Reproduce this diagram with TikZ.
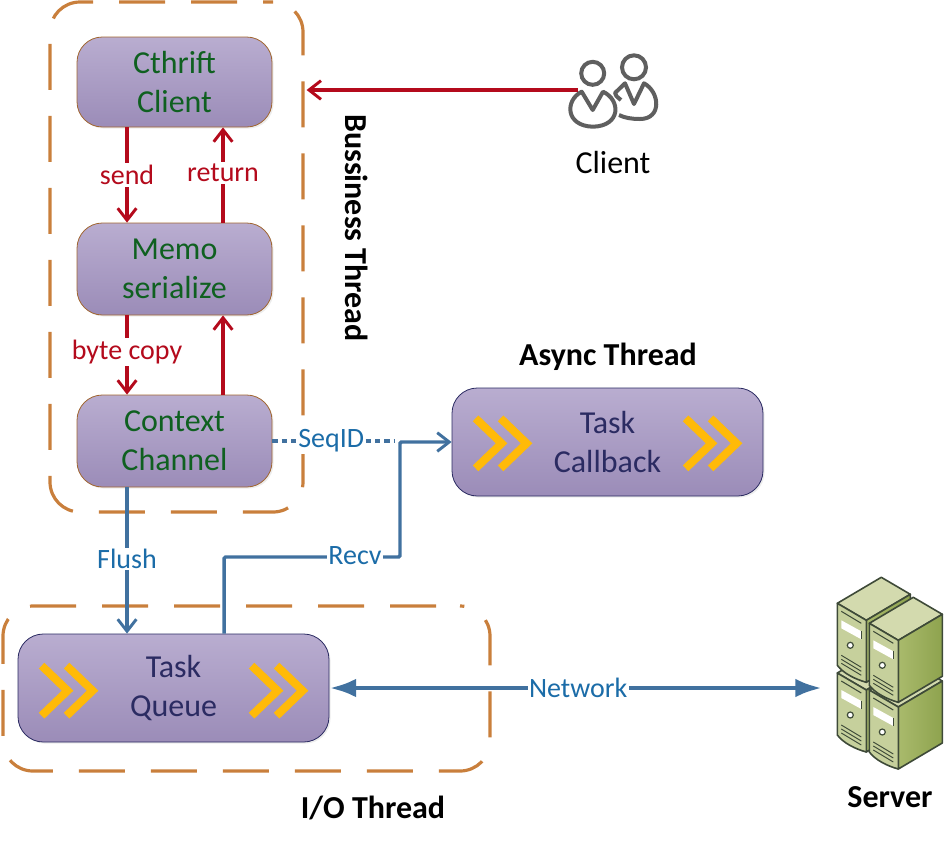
\documentclass[tikz,border=0pt]{standalone}
\usepackage{fontspec}
\setmainfont{Carlito}
\usetikzlibrary{arrows.meta}
\usetikzlibrary{shadows}
\definecolor{groupline}{HTML}{C97F3C}
\definecolor{redline}{HTML}{B40A1C}
\definecolor{blueline}{HTML}{41719F}
\definecolor{bluetext}{HTML}{1B6CA8}
\definecolor{greentext}{HTML}{0F6020}
\definecolor{navytext}{HTML}{2B2B62}
\definecolor{boxtop}{HTML}{B9ADD0}
\definecolor{boxbottom}{HTML}{9B8CB8}
\definecolor{chevron}{HTML}{FFBA08}
\definecolor{personline}{HTML}{5F5F5F}
\definecolor{towerdark}{HTML}{3E4A38}
\definecolor{TowerTop}{HTML}{D3DAAE}
\definecolor{TowerLeft}{HTML}{C6D09C}
\definecolor{TowerRightA}{HTML}{A9BA6C}
\definecolor{TowerRightB}{HTML}{8EA34E}
\tikzset{
  groupbox/.style={draw=groupline,line width=2.4pt,rounded corners=22.5pt,dash pattern=on 34.5pt off 19.5pt,inner sep=0pt},
  taskbox/.style={rounded corners=19pt,top color=boxtop,bottom color=boxbottom,inner sep=0pt,align=center,
    font=\fontsize{24}{29.25}\selectfont,drop shadow={shadow xshift=1.2pt,shadow yshift=-1.2pt,opacity=.15}},
  greenbox/.style={taskbox,draw=groupline!80!black,text=greentext,line width=.6pt},
  purplebox/.style={taskbox,draw=navytext,text=navytext,line width=.6pt},
  redarrow/.style={draw=redline,line width=2.6pt,-{Straight Barb[length=9pt,width=14pt,line width=2.2pt]}},
  bluearrow/.style={draw=blueline,line width=2.6pt,-{Straight Barb[length=9pt,width=14pt,line width=2.2pt]}},
  netarrow/.style={draw=blueline,line width=3.6pt,{Latex[length=20pt,width=14pt]}-{Latex[length=20pt,width=14pt]}},
  seqline/.style={draw=blueline,line width=2.4pt,dash pattern=on 4pt off 3pt},
  redlabel/.style={fill=white,text=redline,inner sep=1.5pt,font=\fontsize{21}{21}\selectfont},
  bluelabel/.style={fill=white,text=bluetext,inner sep=1pt,font=\fontsize{21}{21}\selectfont},
  headlabel/.style={inner sep=0pt,font=\fontsize{24}{24}\selectfont\bfseries},
  doublechevron/.pic={
    \draw[chevron,line width=6pt,miter limit=4] (0,-25) -- (26,0) -- (0,25);
    \draw[chevron,line width=6pt,miter limit=4] (25,-25) -- (51,0) -- (25,25);
  },
  servertower/.pic={
    \draw[towerdark,line width=1.2pt,line join=round,fill=TowerTop] (0,0) -- (44,-26) -- (73,-9) -- (29,17) -- cycle;
    \draw[towerdark,line width=1.2pt,line join=round,left color=TowerRightA,right color=TowerRightB] (29,17) -- (73,-9) -- (73,53) -- (29,79) -- cycle;
    \draw[towerdark,line width=1.2pt,line join=round,fill=TowerLeft] (0,0) -- (29,17) -- (29,79) .. controls (18,76) and (6,70) .. (0,62) -- cycle;
    \draw[towerdark,line width=.8pt] (4,8) -- (24,20);
    \fill[white] (4,17) -- (24,28) -- (24,36) -- (4,25) -- cycle;
    \draw[towerdark,line width=.8pt] (24,28) -- (24,36);
    \draw[towerdark,line width=.9pt,fill=white] (13,42) circle (3);
    \draw[towerdark,line width=.7pt] (4,52) -- (24,64) (4,56) -- (24,68) (4,60) -- (24,72);
  },
}
\begin{document}
\begin{tikzpicture}[x=0.75pt,y=0.75pt,yscale=-1,xscale=1]
\useasboundingbox (0,0) rectangle (950,844);

%Shape: thread groups
\node[groupbox,dash phase=27pt,minimum width=189.75pt,minimum height=382.5pt] (business) at (176.5,257) {};
\node[groupbox,dash phase=36pt,minimum width=365.25pt,minimum height=123.75pt] (iothread) at (246.5,688.5) {};

%Shape: boxes
\node[greenbox,minimum width=146.25pt,minimum height=67.5pt] (cthrift) at (174.5,82) {Cthrift\\Client};
\node[greenbox,minimum width=146.25pt,minimum height=69pt] (memo) at (174.5,269) {Memo\\serialize};
\node[greenbox,minimum width=146.25pt,minimum height=69pt] (context) at (174.5,441) {Context\\Channel};
\node[purplebox,minimum width=233.25pt,minimum height=81pt] (queue) at (173.5,688) {Task\\Queue};
\node[purplebox,minimum width=233.25pt,minimum height=81pt] (callback) at (607.5,442) {Task\\Callback};

%Shape: chevrons
\pic[transform shape] (queuein) at ([xshift=18pt,yshift=2pt]queue.west) {doublechevron};
\pic[transform shape] (queueout) at ([xshift=175.5pt,yshift=2pt]queue.west) {doublechevron};
\pic[transform shape] (callbackin) at ([xshift=18pt,yshift=1pt]callback.west) {doublechevron};
\pic[transform shape] (callbackout) at ([xshift=175.5pt,yshift=1pt]callback.west) {doublechevron};

%Shape: client icon
\draw[personline,line width=3pt] (592.7,73.3) circle (11.5);
\draw[personline,line width=3pt] (634,67.3) circle (12);
\draw[personline,line width=3pt,line join=round] (581.7,91.7) .. controls (565,100) and (565,126) .. (593,126.7) .. controls (621,126) and (621,100) .. (603,91.7) -- (592.7,110) -- cycle;
\draw[personline,line width=3pt,line join=round] (621,100) .. controls (616,96) .. (615,93) -- (625,83.3) -- (634,104) -- (644,83.3) .. controls (660,92) and (662,119) .. (640,119) .. controls (632,119) and (625,118) .. (619,115);
\coordinate (clientpt) at (578,90);
\node[inner sep=0pt,font=\fontsize{24}{24}\selectfont] (clientlabel) at (613,162) {Client};

%Shape: server icon
\pic[transform shape] (towerbl) at (837.3,673) {servertower};
\pic[transform shape] (towertl) at (837.3,603.3) {servertower};
\pic[transform shape] (towerbr) at (869.3,690) {servertower};
\pic[transform shape] (towertr) at (869.3,623.3) {servertower};
\coordinate (serverpt) at (822,687);

%Straight Lines: red
\draw[redarrow] (clientpt) -- ([xshift=1.5pt]clientpt -| business.east) ;
\draw[redarrow] ([xshift=-35.6pt]cthrift.south) -- node[redlabel,pos=0.5] (sendlabel) {send} ([xshift=-35.6pt]memo.north) ;
\draw[redarrow] ([xshift=36.4pt]memo.north) -- node[redlabel,pos=0.52] (returnlabel) {return} ([xshift=36.4pt]cthrift.south) ;
\draw[redarrow] ([xshift=-35.6pt]memo.south) -- node[redlabel,pos=0.46] (bytelabel) {byte copy} ([xshift=-35.6pt]context.north) ;
\draw[redarrow] ([xshift=36.4pt]context.north) -- ([xshift=36.4pt]memo.south) ;

%Straight Lines: blue
\draw[bluearrow] ([xshift=-35.6pt]context.south) -- node[bluelabel,pos=0.49] (flushlabel) {Flush} ([xshift=-35.6pt]queue.north -| context.south) ;
\coordinate (recvcorner) at (400,557);
\coordinate (seqend) at (395,441);
\draw[seqline] (context.east) -- node[bluelabel,pos=0.48] (seqlabel) {SeqID} (seqend) ;
\draw[bluearrow,rounded corners=1pt] ([xshift=38pt]queue.north) |- (recvcorner) |- (callback.west) ;
\node[bluelabel] (recvlabel) at (355,556) {Recv};
\draw[netarrow] (queue.east) -- node[bluelabel,pos=0.505] (netlabel) {Network} (queue.east -| serverpt) ;

% Text Node
\node[headlabel,rotate=-90] (businesslabel) at (357,228) {Bussiness Thread};
\node[headlabel] (asynclabel) at (608,357) {Async Thread};
\node[headlabel] (iolabel) at (373,808) {I/O Thread};
\node[headlabel] (serverlabel) at (890,797) {Server};

\end{tikzpicture}
\end{document}
